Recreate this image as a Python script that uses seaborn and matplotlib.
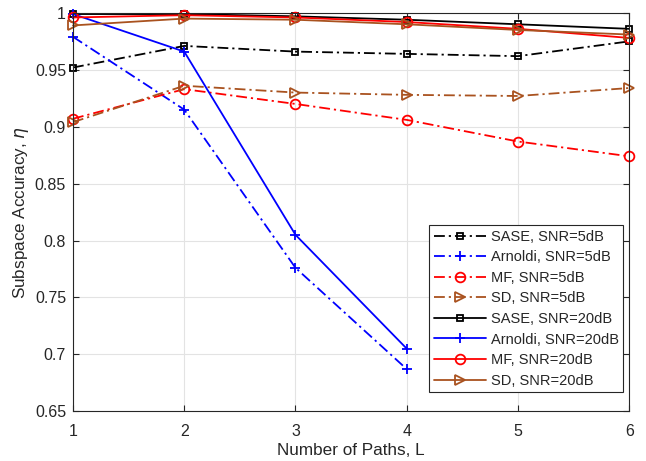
import numpy as np
import pandas as pd
import matplotlib
matplotlib.use("Agg")
import matplotlib.pyplot as plt
import seaborn as sns

# Number of paths L
paths = [1, 2, 3, 4, 5, 6]
paths_arnoldi = [1, 2, 3, 4]

# Subspace accuracy, SNR = 5 dB
sase_5 = [0.952, 0.971, 0.966, 0.964, 0.962, 0.975]
arnoldi_5 = [0.979, 0.915, 0.776, 0.687]
mf_5 = [0.907, 0.933, 0.920, 0.906, 0.887, 0.874]
sd_5 = [0.904, 0.936, 0.930, 0.928, 0.927, 0.934]

# Subspace accuracy, SNR = 20 dB
sase_20 = [0.999, 0.999, 0.997, 0.994, 0.990, 0.986]
arnoldi_20 = [0.999, 0.966, 0.805, 0.705]
mf_20 = [0.996, 0.998, 0.996, 0.992, 0.986, 0.978]
sd_20 = [0.989, 0.995, 0.994, 0.990, 0.985, 0.981]

labels = ["SASE, SNR=5dB", "Arnoldi, SNR=5dB", "MF, SNR=5dB", "SD, SNR=5dB",
          "SASE, SNR=20dB", "Arnoldi, SNR=20dB", "MF, SNR=20dB", "SD, SNR=20dB"]

sns.set_theme(style="ticks")
plt.rcParams["font.family"] = ["Liberation Sans", "DejaVu Sans"]

BROWN = "#a9521f"
dashdot = (0, (6, 2.2, 1.2, 2.2))

series = [
    (paths, sase_5, "black", "s", dashdot, 5.0),
    (paths_arnoldi, arnoldi_5, "blue", "+", dashdot, 7.5),
    (paths, mf_5, "red", "o", dashdot, 7.0),
    (paths, sd_5, BROWN, ">", dashdot, 7.0),
    (paths, sase_20, "black", "s", "-", 5.0),
    (paths_arnoldi, arnoldi_20, "blue", "+", "-", 7.5),
    (paths, mf_20, "red", "o", "-", 7.0),
    (paths, sd_20, BROWN, ">", "-", 7.0),
]

fig = plt.figure(figsize=(6.46, 4.61), dpi=100)
ax = fig.add_axes([0.113, 0.108, 0.861, 0.864])

for (xs, ys, col, mk, ls, ms), lab in zip(series, labels):
    df = pd.DataFrame({"L": xs, "acc": ys})
    sns.lineplot(data=df, x="L", y="acc", ax=ax, color=col, marker=mk,
                 linestyle=ls, linewidth=1.3, markersize=ms,
                 markerfacecolor="none", markeredgecolor=col,
                 markeredgewidth=1.3, label=lab, clip_on=False)

ax.set_xlim(1, 6)
ax.set_ylim(0.65, 1.0)
ax.set_xticks(paths)
ax.set_yticks([0.65, 0.7, 0.75, 0.8, 0.85, 0.9, 0.95, 1.0])
ax.set_yticklabels(["0.65", "0.7", "0.75", "0.8", "0.85", "0.9", "0.95", "1"])
ax.grid(True, color="#e3e3e3", linewidth=0.8)
ax.set_axisbelow(True)
ax.tick_params(direction="in", top=True, right=True, length=4, width=0.8,
               labelsize=11.5, colors="#262626")
ax.tick_params(axis="x", pad=9)
ax.tick_params(axis="y", pad=5)
for sp in ax.spines.values():
    sp.set_color("#262626")
    sp.set_linewidth(0.8)

ax.set_xlabel("Number of Paths, L", fontsize=12.3, color="#262626", labelpad=3)
ax.set_ylabel(r"Subspace Accuracy, $\eta$", fontsize=12.3, color="#262626", labelpad=3)

leg = ax.legend(loc="lower right", bbox_to_anchor=(0.989, 0.048), fontsize=10.5,
                handlelength=3.6, handletextpad=0.3, labelspacing=0.45,
                borderpad=0.3, fancybox=False, framealpha=1,
                edgecolor="#262626", borderaxespad=0)
leg.get_frame().set_linewidth(0.8)
leg.set_zorder(5)

fig.savefig("out.png", dpi=100)
